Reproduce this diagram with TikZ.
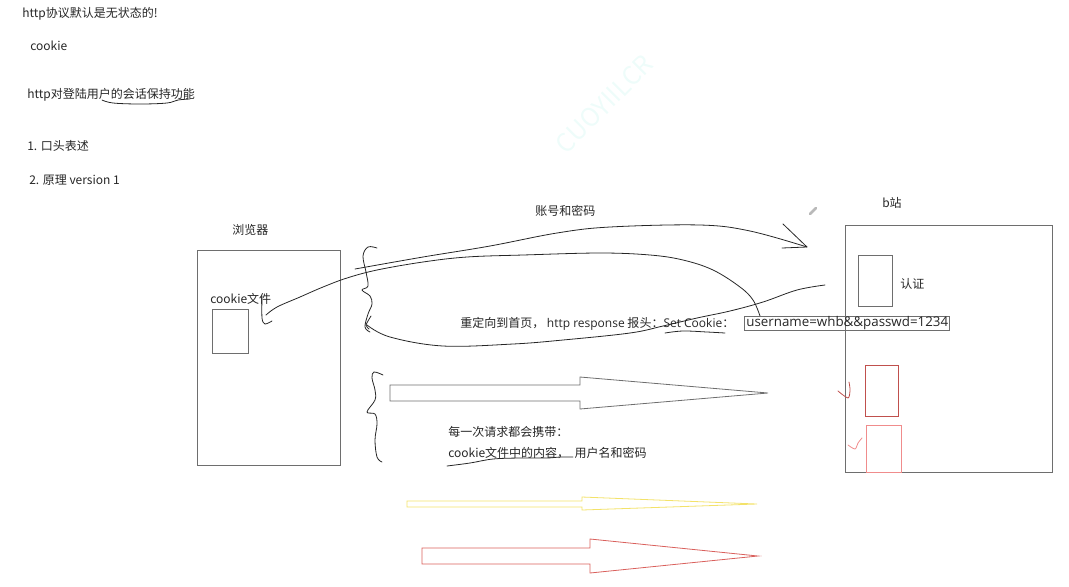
\documentclass[tikz,border=0pt]{standalone}
\usepackage{fontspec}
\setmainfont{Noto Sans CJK SC}
\newfontfamily\latinfont{Open Sans}
\definecolor{inkgray}{HTML}{6E6E6E}
\definecolor{darkred}{HTML}{C0504D}
\definecolor{lightred}{HTML}{F08C8C}
\definecolor{paleyellow}{HTML}{F3E26A}
\definecolor{arrowred}{HTML}{D9605C}
\definecolor{watermark}{HTML}{EEFCFA}
\begin{document}
\begin{tikzpicture}[x=0.75pt, y=-0.75pt,
    txt/.style={font=\fontsize{9}{11}\selectfont, text=black!85, inner sep=0pt, anchor=west},
    box/.style={draw=inkgray, line width=0.6pt, inner sep=0pt},
    boxsize/.style 2 args={minimum width=#1*0.75pt, minimum height=#2*0.75pt},
    hand/.style={draw=black!85, line width=0.6pt, line cap=round, line join=round},
    fatarrow/.style={line width=0.6pt, line join=miter}]
    \useasboundingbox (0,0) rectangle (1069,586);

    % Watermark
    \node[font=\fontsize{19}{19}\selectfont, text=watermark, rotate=45] (mark) at (604,104) {CUOYIILCR};

    % Notes on the left
    \node[txt] (stateless) at (22,14) {http协议默认是无状态的!};
    \node[txt] (cookieTitle) at (30,46) {cookie};
    \node[txt] (keepSession) at (27,95) {http对登陆用户的会话保持功能};
    \node[txt] (point1) at (27,146) {1. 口头表述};
    \node[txt] (point2) at (29,180) {2. 原理 version 1};
    \draw[hand] plot[smooth, tension=0.6] coordinates {(102,100) (113,103) (140,104) (167,103) (178,100) (190,99)};

    % Browser
    \node[txt] (browserLabel) at (232,230) {浏览器};
    \node[box, boxsize={143}{215}] (browser) at (268.5,357.5) {};
    \node[txt] (cookieLabel) at (210,299) {cookie文件};
    \node[box, boxsize={36}{44}] (cookieFile) at (230,331) {};

    % b站
    \node[txt] (siteLabel) at (882,203) {b站};
    \node[box, boxsize={207}{247}] (site) at (948.5,348.5) {};
    \node[box, boxsize={34}{51}] (auth) at (875,280.5) {};
    \node[txt] (authLabel) at (900,284) {认证};
    \node[box, draw=darkred, boxsize={33}{51}] (checkA) at (881.5,390.5) {};
    \node[box, draw=lightred, boxsize={35}{47}] (checkB) at (883.5,448.5) {};
    \draw[hand, draw=darkred] plot[smooth, tension=0.5] coordinates {(838,391) (848,398) (850,390) (849,382)};
    \draw[hand, draw=lightred] plot[smooth, tension=0.5] coordinates {(848,445) (855,449) (858,443) (862,438)};
    \draw[line width=2pt, line cap=round, draw=gray!55] (810,214) -- (816,208);

    % Request: account and password
    \node[txt] (loginLabel) at (535,211) {账号和密码};
    \coordinate (loginStart) at (355,269);
    \coordinate (loginEnd) at (807,247);
    \draw[hand] plot[smooth, tension=0.6] coordinates {(loginStart) (423,257) (490,246) (557,233) (610,227) (700,225) (750,231) (loginEnd)};
    \draw[hand] (783,224) -- (loginEnd) -- (782,248);

    % Line from the cookie file
    \coordinate (fileHook) at (262,296);
    \draw[hand] plot[smooth, tension=0.5] coordinates {(fileHook) (262,318) (265,324) (272,321)};
    \draw[hand] plot[smooth, tension=0.6] coordinates {(266,315) (277,307) (300,297) (323,287) (347,278) (377,270) (423,262) (467,257) (523,255) (600,253) (650,255) (683,260) (713,270) (740,287) (753,300) (760,316)};

    % Response: redirect with Set-Cookie
    \coordinate (replyStart) at (825,285);
    \coordinate (replyEnd) at (367,325);
    \draw[hand] plot[smooth, tension=0.6] coordinates {(replyStart) (797,290) (763,302) (730,311) (697,318) (663,326) (630,333) (563,340) (513,344) (443,346) (390,337) (replyEnd)};
    \node[txt] (redirect) at (460,324) {重定向到首页，\ {\latinfont http response} 报头：{\latinfont Set Cookie}：};
    \node[box, anchor=west, inner xsep=1.5pt, text width=201*0.75pt, minimum height=13*0.75pt,
        font=\fontsize{10}{11}\latinfont, text=black!85] (cookieValue) at (744,323.5) {username=whb\&\&passwd=1234};
    \draw[hand] plot[smooth, tension=0.6] coordinates {(665,333) (683,331) (707,332) (725,333)};

    % Brace marks
    \draw[hand] plot[smooth, tension=0.6] coordinates {(377,248) (368,247) (363,256) (366,272) (368,286) (362,290) (370,296) (372,304) (368,314) (365,327) (370,332)};
    \draw[hand] plot[smooth, tension=0.4] coordinates {(371,316) (366,325) (369,329)};
    \draw[hand] plot[smooth, tension=0.6] coordinates {(383,375) (374,372) (372,378) (375,390) (375,400) (367,412) (375,414) (377,424) (375,440) (377,457) (382,462)};

    % Every request carries the cookie
    \draw[fatarrow, draw=inkgray] (390,385) -- (580,385) -- (580,377) -- (768,393) -- (580,409) -- (580,401) -- (390,401) -- cycle;
    \node[txt] (everyRequest) at (448,432) {每一次请求都会携带：};
    \node[txt] (carried) at (448,453) {cookie文件中的内容，\ \ 用户名和密码};
    \draw[hand] plot[smooth, tension=0.6] coordinates {(447,466) (470,463) (493,459) (520,458) (547,458) (560,457) (573,457)};

    % Coloured arrows
    \draw[fatarrow, draw=paleyellow] (407,501) -- (582,501) -- (582,497) -- (757,504) -- (582,510) -- (582,507) -- (407,507) -- cycle;
    \draw[fatarrow, draw=arrowred] (422,548) -- (590,548) -- (590,539) -- (758,556) -- (590,573) -- (590,564) -- (422,564) -- cycle;
\end{tikzpicture}
\end{document}
